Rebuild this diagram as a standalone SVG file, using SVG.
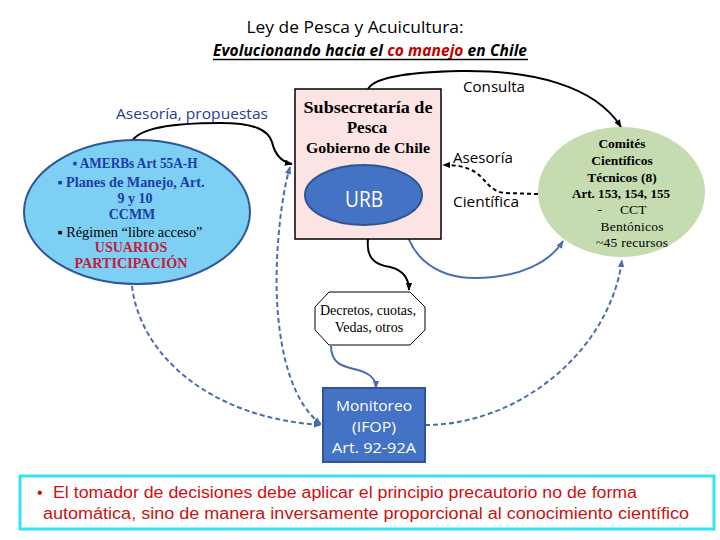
<svg xmlns="http://www.w3.org/2000/svg" width="720" height="540" viewBox="0 0 720 540">
<style>
.cal{font-family:"Open Sans","Liberation Sans",sans-serif}
.tms{font-family:"Liberation Serif","DejaVu Serif",serif}
.blk{fill:none;stroke:#000;stroke-width:2}
.blu{fill:none;stroke:#4A6DB0;stroke-width:2}
.dsh{fill:none;stroke:#4A6DB0;stroke-width:2;stroke-dasharray:5 3}
</style>
<defs>
<marker id="ak" viewBox="0 0 10 10" refX="9" refY="5" markerWidth="8" markerHeight="8" orient="auto-start-reverse" markerUnits="userSpaceOnUse"><path d="M0,1 L10,5 L0,9 z" fill="#000"/></marker>
<marker id="ab" viewBox="0 0 10 10" refX="9" refY="5" markerWidth="8" markerHeight="8" orient="auto-start-reverse" markerUnits="userSpaceOnUse"><path d="M0,1 L10,5 L0,9 z" fill="#4A6DB0"/></marker>
</defs>
<rect width="720" height="540" fill="#fff"/>

<g id="title">
<text class="cal" x="355" y="33" font-size="17" text-anchor="middle" textLength="217" lengthAdjust="spacingAndGlyphs">Ley de Pesca y Acuicultura:</text>
<text class="cal" x="213" y="56" font-size="15.5" font-weight="bold" font-style="italic" textLength="314" lengthAdjust="spacing">Evolucionando hacia el <tspan fill="#C00000">co manejo</tspan> en Chile</text>
<line x1="213" y1="59.5" x2="528" y2="59.5" stroke="#000" stroke-width="1.3"/>
</g>

<g id="connectors">
<path class="blk" d="M132,141 C140,128 175,123 220,123 C255,123 268,130 272,142 C275,155 282,162 292,164" marker-end="url(#ak)"/>
<path class="blk" d="M368,89 C375,75 420,72 460,71 C530,70 595,85 621,127" marker-end="url(#ak)"/>
<path class="blk" d="M538,194 L505,193 C490,192 485,178 475,172 C465,166 455,165 443,165" stroke-dasharray="4 3" marker-end="url(#ak)"/>
<path class="blk" d="M368,239 C366,258 375,265 390,267 C404,270 409,280 409,290" marker-end="url(#ak)"/>
<path class="blu" d="M405,222 C407,250 430,278 475,278 C520,278 550,262 563,241" marker-start="url(#ab)" marker-end="url(#ab)"/>
<path class="blu" d="M331,346 C331,365 345,367 358,370 C372,374 376,380 376,388" marker-end="url(#ab)"/>
<path class="dsh" d="M290,167 C280,200 275,260 277,300 C280,360 295,405 321,424" marker-start="url(#ab)" marker-end="url(#ab)"/>
<path class="dsh" d="M132,286 C140,355 210,418 321,425" marker-end="url(#ab)"/>
<path class="dsh" d="M425,425 C520,425 610,350 622,260" marker-end="url(#ab)"/>
</g>

<g id="labels">
<text class="cal" x="116" y="119" font-size="15" fill="#2B3A96" textLength="152" lengthAdjust="spacingAndGlyphs">Asesoría, propuestas</text>
<text class="cal" x="463" y="92" font-size="15" fill="#000" textLength="62" lengthAdjust="spacingAndGlyphs">Consulta</text>
<text class="cal" x="453" y="163" font-size="15" fill="#000" textLength="60" lengthAdjust="spacingAndGlyphs">Asesoría</text>
<text class="cal" x="453" y="207" font-size="15" fill="#000" textLength="66" lengthAdjust="spacingAndGlyphs">Científica</text>
</g>

<g id="usuarios">
<ellipse cx="137" cy="212" rx="113" ry="72" fill="#7DCFF3" stroke="#2E5597" stroke-width="2"/>
<g class="tms" font-size="14" text-anchor="middle">
<text x="135" y="168" font-weight="bold" fill="#1A3CA8" textLength="125" lengthAdjust="spacingAndGlyphs">▪ AMERBs Art 55A-H</text>
<text x="131" y="187" font-weight="bold" fill="#1A3CA8" textLength="147" lengthAdjust="spacingAndGlyphs">▪ Planes de Manejo, Art.</text>
<text x="135" y="203" font-weight="bold" fill="#1A3CA8">9 y 10</text>
<text x="132" y="219" font-weight="bold" fill="#1A3CA8">CCMM</text>
<text x="130" y="237" fill="#000" textLength="145" lengthAdjust="spacingAndGlyphs">▪ Régimen “libre acceso”</text>
<text x="131" y="252" font-weight="bold" fill="#C0203C">USUARIOS</text>
<text x="131" y="268" font-weight="bold" fill="#C0203C" textLength="113" lengthAdjust="spacingAndGlyphs">PARTICIPACIÓN</text>
</g>
</g>

<g id="subpesca">
<rect x="295" y="89" width="146" height="150" fill="#FCE4E4" stroke="#000" stroke-width="1.5"/>
<g class="tms" font-weight="bold" text-anchor="middle" fill="#000">
<text x="368" y="113" font-size="17" textLength="129" lengthAdjust="spacingAndGlyphs">Subsecretaría de</text>
<text x="367" y="133" font-size="17">Pesca</text>
<text x="368" y="153" font-size="15" textLength="124" lengthAdjust="spacingAndGlyphs">Gobierno de Chile</text>
</g>
</g>

<g id="urb">
<ellipse cx="363.5" cy="195" rx="58.5" ry="30" fill="#4472C4" stroke="#2F5597" stroke-width="2"/>
<text class="cal" x="364" y="207" font-size="21" fill="#fff" text-anchor="middle" textLength="38" lengthAdjust="spacingAndGlyphs">URB</text>
</g>

<g id="comites">
<ellipse cx="621.5" cy="192" rx="83.5" ry="65" fill="#C5DCB0"/>
<g class="tms" font-size="13.5" text-anchor="middle" fill="#000">
<text x="622" y="148" font-weight="bold">Comités</text>
<text x="622" y="165" font-weight="bold">Científicos</text>
<text x="622" y="182" font-weight="bold">Técnicos (8)</text>
<text x="621" y="198" font-weight="bold" textLength="98" lengthAdjust="spacingAndGlyphs">Art. 153, 154, 155</text>
<text x="622" y="214" textLength="49" lengthAdjust="spacing" xml:space="preserve">-     CCT</text>
<text x="632" y="231" textLength="63" lengthAdjust="spacing">Bentónicos</text>
<text x="632" y="247" textLength="72" lengthAdjust="spacing">~45 recursos</text>
</g>
</g>

<g id="decretos">
<polygon points="329,292 410,292 425,307 425,330 410,345 329,345 315,330 315,307" fill="#fff" stroke="#000" stroke-width="1"/>
<g class="tms" font-size="14" text-anchor="middle" fill="#000">
<text x="368" y="315">Decretos, cuotas,</text>
<text x="369" y="332">Vedas, otros</text>
</g>
</g>

<g id="monitoreo">
<rect x="323" y="388" width="102" height="74" fill="#4472C4" stroke="#2F5597" stroke-width="2"/>
<g class="cal" font-size="15" fill="#fff" text-anchor="middle">
<text x="374" y="411" textLength="76" lengthAdjust="spacingAndGlyphs">Monitoreo</text>
<text x="374" y="432" textLength="44" lengthAdjust="spacingAndGlyphs">(IFOP)</text>
<text x="374" y="453" textLength="84" lengthAdjust="spacingAndGlyphs">Art. 92-92A</text>
</g>
</g>

<g id="nota">
<rect x="20" y="476" width="694" height="53" fill="#fff" stroke="#35E3EE" stroke-width="3"/>
<g font-family="Liberation Sans, Arial, sans-serif" font-size="16" fill="#CC1111">
<text x="37" y="498">•</text>
<text x="53" y="498" textLength="584" lengthAdjust="spacingAndGlyphs">El tomador de decisiones debe aplicar el principio precautorio no de forma</text>
<text x="43" y="519" textLength="646" lengthAdjust="spacingAndGlyphs">automática, sino de manera inversamente proporcional al conocimiento científico</text>
</g>
</g>
</svg>
